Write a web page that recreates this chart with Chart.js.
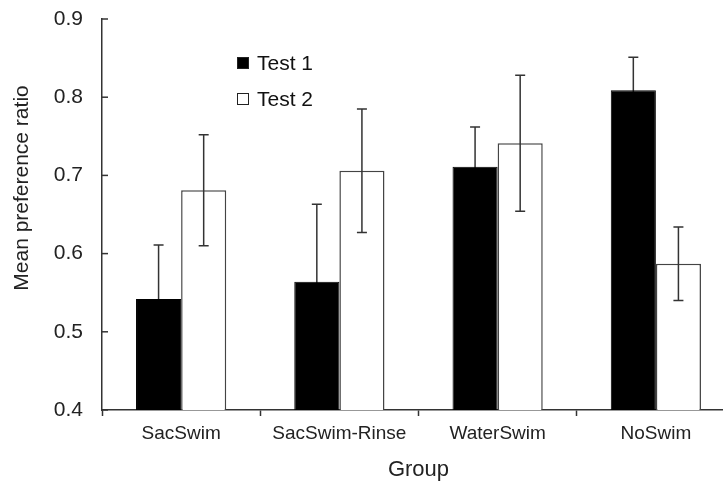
<!DOCTYPE html>
<html>
<head>
<meta charset="utf-8">
<script src="https://cdn.jsdelivr.net/npm/chart.js@4"></script>
<style>
    html, body { margin: 0; padding: 0; background: #fff; overflow: hidden; }
    #wrap { width: 740px; height: 483px; }
</style>
</head>
<body>
<div id="wrap"><canvas id="chart1"></canvas></div>
<script>
const groups = ['SacSwim', 'SacSwim-Rinse', 'WaterSwim', 'NoSwim'];
const test1 = [0.542, 0.564, 0.711, 0.809];
const test1Err = [0.069, 0.099, 0.051, 0.042];
const test2 = [0.681, 0.706, 0.741, 0.587];
const test2Err = [0.071, 0.079, 0.087, 0.047];
const yTicks = [0.4, 0.5, 0.6, 0.7, 0.8, 0.9];

const FONT = '"Liberation Sans", Arial, sans-serif';
const INK = '#333';

function drawErrors(chart, di, errs) {
    const ctx = chart.ctx;
    const y = chart.scales.y;
    const ds = chart.data.datasets[di];
    const meta = chart.getDatasetMeta(di);
    ctx.save();
    ctx.lineWidth = 1.5;
    ctx.strokeStyle = INK;
    meta.data.forEach((bar, i) => {
        const v = ds.data[i];
        const top = y.getPixelForValue(v + errs[i]);
        const bot = y.getPixelForValue(v - errs[i]);
        ctx.beginPath();
        ctx.moveTo(bar.x, top); ctx.lineTo(bar.x, bot);
        ctx.moveTo(bar.x - 5, top); ctx.lineTo(bar.x + 5, top);
        ctx.moveTo(bar.x - 5, bot); ctx.lineTo(bar.x + 5, bot);
        ctx.stroke();
    });
    ctx.restore();
}

// Test 1 bars cover their lower whisker, Test 2 whiskers run over the bars
const errorBars = {
    id: 'errorBars',
    beforeDatasetsDraw(chart) { drawErrors(chart, 0, test1Err); },
    afterDatasetsDraw(chart) { drawErrors(chart, 1, test2Err); }
};

// inward ticks on the y axis, legend and rotated y title
const decorations = {
    id: 'decorations',
    afterDraw(chart) {
        const ctx = chart.ctx;
        const area = chart.chartArea;
        const y = chart.scales.y;
        ctx.save();
        ctx.strokeStyle = INK;
        ctx.lineWidth = 1.5;
        yTicks.forEach(t => {
            const py = y.getPixelForValue(t);
            ctx.beginPath();
            ctx.moveTo(area.left, py);
            ctx.lineTo(area.left + 6, py);
            ctx.stroke();
        });

        // legend
        ctx.font = '21px ' + FONT;
        ctx.textBaseline = 'middle';
        ctx.textAlign = 'left';
        chart.data.datasets.forEach((ds, i) => {
            const lx = area.left + 135;
            const ly = area.top + 44 + i * 36;
            ctx.fillStyle = ds.backgroundColor;
            ctx.fillRect(lx, ly - 6, 12, 12);
            ctx.lineWidth = 1;
            ctx.strokeStyle = '#222';
            ctx.strokeRect(lx + 0.5, ly - 5.5, 11, 11);
            ctx.fillStyle = '#111';
            ctx.fillText(ds.label, lx + 20, ly + 1);
        });

        // y title
        ctx.translate(22, 188);
        ctx.rotate(-Math.PI / 2);
        ctx.textAlign = 'center';
        ctx.fillStyle = '#222';
        ctx.fillText('Mean preference ratio', 0, 0);
        ctx.restore();
    }
};

const ctx1 = document.getElementById('chart1').getContext('2d');
const chart = new Chart(ctx1, {
    type: 'bar',
    data: {
        labels: groups,
        datasets: [{
            label: 'Test 1',
            data: test1,
            backgroundColor: '#000',
            borderColor: '#000',
            borderWidth: 1
        },
        {
            label: 'Test 2',
            data: test2,
            backgroundColor: '#fff',
            borderColor: '#444',
            borderWidth: 1.5
        }]
    },
    options: {
        responsive: true,
        maintainAspectRatio: false,
        animation: false,
        devicePixelRatio: 1,
        layout: { padding: { top: 19, right: 5, left: 0, bottom: 0 } },
        plugins: {
            legend: { display: false },
            tooltip: { enabled: false }
        },
        datasets: {
            bar: { categoryPercentage: 0.57, barPercentage: 1.0 }
        },
        scales: {
            x: {
                afterFit: (s) => { s.height = 73; },
                grid: {
                    offset: true,
                    drawOnChartArea: false,
                    tickLength: 6,
                    tickWidth: 1.5,
                    color: INK
                },
                border: { color: INK, width: 1.5 },
                ticks: {
                    padding: 6,
                    color: '#222',
                    font: { family: FONT, size: 19 },
                    maxRotation: 0
                },
                title: {
                    display: true,
                    text: 'Group',
                    color: '#222',
                    font: { family: FONT, size: 22 },
                    padding: { top: 0, bottom: 0 }
                }
            },
            y: {
                min: 0.4,
                max: 0.9,
                afterFit: (s) => { s.width = 102; },
                afterBuildTicks: (s) => { s.ticks = yTicks.map(v => ({ value: v })); },
                grid: { drawOnChartArea: false, drawTicks: false },
                border: { color: INK, width: 1.5 },
                ticks: {
                    padding: 19,
                    color: '#222',
                    font: { family: FONT, size: 21, lineHeight: 0 },
                    callback: (v) => v.toFixed(1)
                }
            }
        }
    },
    plugins: [errorBars, decorations]
});
</script>
</body>
</html>
